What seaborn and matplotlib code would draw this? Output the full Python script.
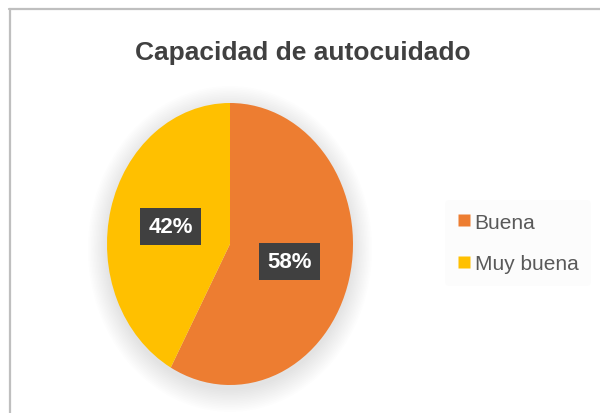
import matplotlib
matplotlib.use("Agg")
import matplotlib.pyplot as plt
import seaborn as sns
from matplotlib.patches import Ellipse
from matplotlib.lines import Line2D

categories = ["Buena", "Muy buena"]
values = [58, 42]
colors = ["#ED7D31", "#FFC000"]
title = "Capacidad de autocuidado"

sns.set_theme(style="white")
plt.rcParams["font.family"] = ["Liberation Sans", "DejaVu Sans"]

W, H = 600, 414
fig = plt.figure(figsize=(W / 100, H / 100), dpi=100)
fig.patch.set_facecolor("white")

# pie axes placed in pixel extents (elliptical pie)
left, right, top, bottom = 107, 353, 104, 386
ax = fig.add_axes([left / W, 1 - bottom / H, (right - left) / W, (bottom - top) / H])

# soft shadow
for i in range(14):
    r = 1.0 + 0.012 * i
    e = Ellipse((0, -0.035), 2 * r, 2 * r, facecolor="black", edgecolor="none",
                alpha=0.007, clip_on=False, zorder=0)
    ax.add_patch(e)

wedges, texts, autotexts = ax.pie(
    values, colors=colors, startangle=90, counterclock=False,
    autopct=lambda p: f"{p:.0f}%", pctdistance=0.5, radius=1,
    wedgeprops=dict(linewidth=0, edgecolor="none"),
    textprops=dict(color="white", fontsize=16, fontweight="bold"),
)
for w in wedges:
    w.set_zorder(2)
for t in autotexts:
    t.set_zorder(5)
    t.set_bbox(dict(boxstyle="square,pad=0.36", facecolor="#404040", edgecolor="none"))
ax.set_aspect("auto")
ax.set_xlim(-1, 1)
ax.set_ylim(-1, 1)
ax.axis("off")

# title
fig.text(303 / W, 1 - 53 / H, title, ha="center", va="center",
         fontsize=19, fontweight="bold", color="#404040")

# legend
handles = [Line2D([], [], marker="s", linestyle="none", markersize=8,
                  markerfacecolor=c, markeredgecolor="none") for c in colors]
leg = fig.legend(handles, categories, loc="center left",
                 bbox_to_anchor=(435 / W, 1 - 244 / H), frameon=True,
                 fontsize=15, handlelength=0.6, handletextpad=0.2,
                 labelspacing=1.1, borderpad=0.6, labelcolor="#595959")
leg.get_frame().set_facecolor("#FCFCFC")
leg.get_frame().set_edgecolor("none")

# outer border lines (top and left)
fig.add_artist(Line2D([9 / W, 1], [1 - 9.5 / H, 1 - 9.5 / H], color="#BFBFBF", lw=1.6,
                      transform=fig.transFigure))
fig.add_artist(Line2D([9.5 / W, 9.5 / W], [0, 1 - 9.5 / H], color="#BFBFBF", lw=1.6,
                      transform=fig.transFigure))

fig.savefig("out.png", dpi=100)
